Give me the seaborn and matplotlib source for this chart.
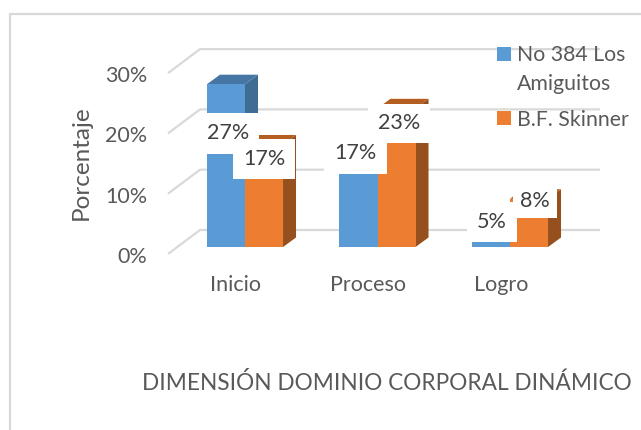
import matplotlib
matplotlib.use("Agg")
import matplotlib.pyplot as plt
import matplotlib.transforms as mtrans
from matplotlib.lines import Line2D
from matplotlib.patches import Polygon
import pandas as pd
import seaborn as sns

categorias = ["Inicio", "Proceso", "Logro"]
escuela_a = [0.27, 0.17, 0.05]
escuela_b = [0.17, 0.23, 0.08]
serie_a = "No 384 Los\nAmiguitos"
serie_b = "B.F. Skinner"
ticks_y = [0, 0.1, 0.2, 0.3]
etiquetas_y = ["0%", "10%", "20%", "30%"]

AZUL, AZUL_LADO, AZUL_TOPE = "#5B9BD5", "#3F6C95", "#4676A4"
NARANJA, NARANJA_LADO, NARANJA_TOPE = "#ED7D31", "#96501E", "#B65D20"
GRIS = "#595959"
REJILLA = "#D9D9D9"
W, H = 641, 430

# escala en pixeles: 132.5 px por categoria, 603 px por 100%
PX, PY = 132.5, 603.0
FONDO = 13 / PX, 9.5 / PY

df = pd.DataFrame({
    "categoria": categorias * 2,
    "serie": [serie_a] * 3 + [serie_b] * 3,
    "valor": escuela_a + escuela_b,
})

sns.set_theme(style="white")
plt.rcParams["font.family"] = ["Lato", "DejaVu Sans"]

fig = plt.figure(figsize=(W / 100, H / 100), dpi=100)
ax = fig.add_axes([168 / W, (H - 254) / H, (600 - 168) / W, (254 - 49) / H])

sns.barplot(data=df, x="categoria", y="valor", hue="serie", order=categorias,
            palette=[AZUL, NARANJA], width=0.574, gap=0, saturation=1,
            errorbar=None, ax=ax, zorder=3, linewidth=0, edgecolor="none")

ax.set_xlim((168 - 245) / PX, (600 - 245) / PX)
ax.set_ylim(-7 / PY, (247 - 49) / PY)
sns.despine(ax=ax, left=True, bottom=True)
ax.patch.set_alpha(0)

# --- piso y paredes ---
xl, xr = ax.get_xlim()
for t in ticks_y:
    yb = t + 17 / PY
    yf = t - 7 / PY
    ax.plot([xl, xl + 32 / PX, xr], [yf, yb, yb], color=REJILLA, lw=1.6,
            zorder=0.5, clip_on=False, solid_capstyle="butt")

# --- caras laterales y superiores de las barras ---
colores = [(AZUL_LADO, AZUL_TOPE), (NARANJA_LADO, NARANJA_TOPE)]
for cont, (lado, tope) in zip(ax.containers, colores):
    for b in cont:
        x0, x1, y1 = b.get_x(), b.get_x() + b.get_width(), b.get_height()
        dx, dy = FONDO
        ax.add_patch(Polygon([(x1, 0), (x1 + dx, dy), (x1 + dx, y1 + dy), (x1, y1)],
                             fc=lado, ec="none", zorder=2, clip_on=False))
        ax.add_patch(Polygon([(x0, y1), (x0 + dx, y1 + dy), (x1 + dx, y1 + dy), (x1, y1)],
                             fc=tope, ec="none", zorder=2, clip_on=False))

# --- etiquetas de datos: desplazamiento en px respecto al tope de cada barra ---
desplaz = [[(2, -49), (-3, -9), (1, -5)], [(0, -14.5), (2.5, -15), (6, -2)]]
margenes = [[7.5, 7.5, 7], [7.5, 7, 5.5]]
for i, cont in enumerate(ax.containers):
    for j, b in enumerate(cont):
        xc = b.get_x() + b.get_width() / 2 + desplaz[i][j][0] / PX
        yc = b.get_height() + desplaz[i][j][1] / PY
        ax.text(xc, yc, f"{b.get_height():.0%}", ha="center", va="center",
                fontsize=15.5, color="#404040", zorder=4 + 0.1 * i, clip_on=False,
                bbox=dict(fc="white", ec="none", pad=margenes[i][j]))

# --- ejes ---
ax.set_yticks(ticks_y, etiquetas_y)
ax.tick_params(axis="y", length=0, pad=15, labelsize=15.5, labelcolor=GRIS)
ax.tick_params(axis="x", length=0, pad=15, labelsize=15.5, labelcolor=GRIS)
baja = mtrans.ScaledTranslation(0, -8 / 100, fig.dpi_scale_trans)
for lab in ax.get_yticklabels():
    lab.set_transform(lab.get_transform() + baja)
izq = mtrans.ScaledTranslation(-9 / 100, 0, fig.dpi_scale_trans)
for lab in ax.get_xticklabels():
    lab.set_transform(lab.get_transform() + izq)

ax.set_ylabel("Porcentaje", fontsize=17.5, color=GRIS)
ax.yaxis.set_label_coords((92 - 168) / (600 - 168), (254 - 163) / (254 - 49))
ax.set_xlabel("DIMENSIÓN DOMINIO CORPORAL DINÁMICO", fontsize=16.3, color=GRIS)
ax.xaxis.set_label_coords((387 - 168) / (600 - 168), -(372 - 254) / (254 - 49))

leg = ax.legend(loc="upper left", bbox_to_anchor=(497 / W, (H - 45) / H),
                bbox_transform=fig.transFigure, frameon=False, fontsize=15.3,
                labelcolor=GRIS, handlelength=0.65, handleheight=0.65, handletextpad=0.28,
                labelspacing=0.74, borderpad=0, borderaxespad=0)
for t in leg.get_texts():
    t.set_linespacing(1.56)
# el cuadro de la leyenda va a la altura de la primera linea
leg.get_patches()[0].set_y(12)

# marco exterior del grafico
marco = dict(color=REJILLA, lw=1.6, transform=fig.transFigure)
fig.add_artist(Line2D([10 / W, 10 / W], [0, (H - 13.5) / H], **marco))
fig.add_artist(Line2D([10 / W, 1], [(H - 13.5) / H, (H - 13.5) / H], **marco))

fig.savefig("out.png", dpi=100)
